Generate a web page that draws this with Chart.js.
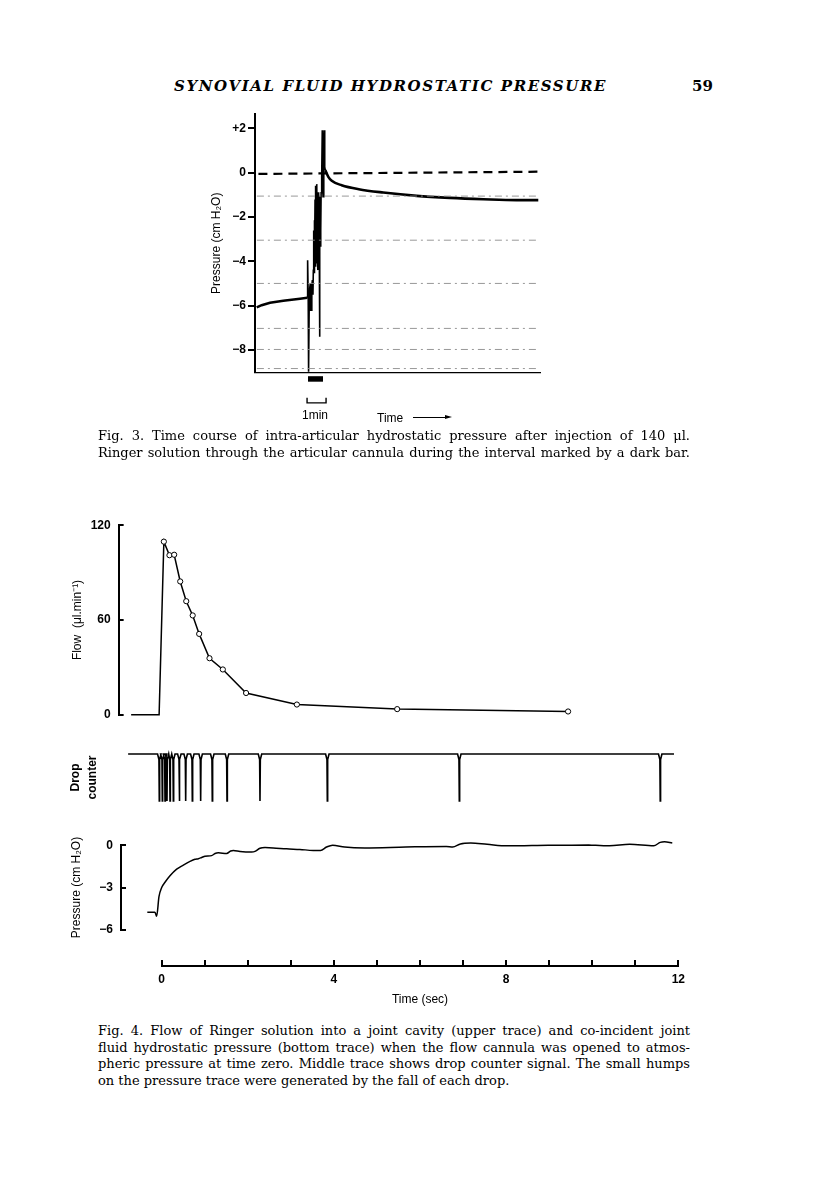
<!DOCTYPE html>
<html><head><meta charset="utf-8">
<script src="https://cdn.jsdelivr.net/npm/chart.js@4.4.1/dist/chart.umd.min.js"></script>
<style>
html,body{margin:0;padding:0;background:#fff;}
body{position:relative;width:816px;height:1191px;overflow:hidden;font-family:"Liberation Sans",Arial,sans-serif;color:#000;}
.a{position:absolute;}
canvas.a{display:block;}
.hdr{font-family:"DejaVu Serif",serif;font-style:italic;font-weight:bold;font-size:15px;letter-spacing:1.6px;white-space:nowrap;line-height:18px;}
.cap{font-family:"DejaVu Serif",serif;font-size:13px;line-height:16.5px;white-space:nowrap;width:592px;}
.cap div{text-align:justify;text-align-last:justify;}
.cap div.last{text-align-last:left;}
.lbl{font-size:12px;line-height:14px;white-space:nowrap;}
</style></head><body>

<div class="a hdr" style="left:174px;top:77px;">SYNOVIAL FLUID HYDROSTATIC PRESSURE</div>
<div class="a hdr" style="left:692px;top:77px;font-style:normal;letter-spacing:0;">59</div>

<canvas id="c3" class="a" width="360" height="320" style="left:200px;top:105px"></canvas>
<div class="a lbl" style="left:302px;top:408px;">1min</div>
<div class="a lbl" style="left:377px;top:411px;">Time</div>
<div class="a" style="left:413px;top:417px;width:33px;height:0;border-top:1.5px solid #000;"></div>
<div class="a" style="left:445px;top:415px;width:0;height:0;border-top:2.5px solid transparent;border-bottom:2.5px solid transparent;border-left:7px solid #000;"></div>

<div class="a cap" style="left:98px;top:428px;">
<div>Fig. 3. Time course of intra-articular hydrostatic pressure after injection of 140 μl.</div>
<div>Ringer solution through the articular cannula during the interval marked by a dark bar.</div>
</div>

<canvas id="cFlow" class="a" width="650" height="230" style="left:50px;top:505px"></canvas>
<canvas id="cDrop" class="a" width="650" height="75" style="left:50px;top:740px"></canvas>
<canvas id="cPress" class="a" width="650" height="125" style="left:50px;top:825px"></canvas>
<canvas id="cTime" class="a" width="620" height="60" style="left:100px;top:950px"></canvas>

<div class="a cap" style="left:98px;top:1023px;">
<div>Fig. 4. Flow of Ringer solution into a joint cavity (upper trace) and co-incident joint</div>
<div>fluid hydrostatic pressure (bottom trace) when the flow cannula was opened to atmos-</div>
<div>pheric pressure at time zero. Middle trace shows drop counter signal. The small humps</div>
<div class="last">on the pressure trace were generated by the fall of each drop.</div>
</div>

<script>
// ---------------- Fig. 3 data (time in min, pressure in cm H2O) ----------------
const fig3PreTime   = [0.09, 0.35, 0.79, 1.49, 2.37, 2.75];
const fig3PrePress  = [-6.07, -5.97, -5.86, -5.77, -5.68, -5.64];
const fig3InjTime   = [2.75, 2.77, 2.80, 2.82, 2.85, 2.88, 2.91, 2.94, 2.96, 2.99, 3.02, 3.05, 3.07, 3.09, 3.11, 3.12, 3.14, 3.16, 3.17, 3.19, 3.21, 3.23, 3.24, 3.26, 3.28, 3.30, 3.31, 3.33, 3.35, 3.37, 3.39, 3.41, 3.42, 3.44, 3.46, 3.48, 3.51, 3.54, 3.56, 3.58, 3.61, 3.63, 3.65, 3.67, 3.70];
const fig3InjPress  = [-5.64, -3.94, -5.59, -8.98, -6.2, -5.2, -5.0, -6.0, -6.2, -5.1, -4.84, -5.5, -4.4, -2.6, -4.5, -2.14, -4.3, -1.2, -4.24, -0.58, -3.6, -0.9, -4.09, -0.51, -3.2, -4.39, -1.5, -0.88, -3.8, -1.2, -7.4, -2.0, -1.03, -3.3, -2.59, -0.9, -0.18, 1.92, -0.6, -1.08, -0.78, 1.0, 1.92, 0.27, 0.12];
const fig3PostTime  = [3.70, 3.86, 4.04, 4.56, 5.46, 6.75, 8.51, 10.26, 12.02, 13.77, 14.91];
const fig3PostPress = [0.12, -0.18, -0.36, -0.56, -0.74, -0.89, -1.04, -1.13, -1.19, -1.23, -1.23];
const fig3ZeroTime  = [0.18, 14.9];
const fig3ZeroPress = [-0.05, 0.05];
const fig3PaperLevels = [-1.05, -3.04, -4.99, -7.02, -7.97, -8.83];
const fig3InjectionBar = [2.79, 3.58];   // dark bar: injection interval (min)
const fig3ScaleBar     = [2.74, 3.74];   // 1 min scale bracket
const fig3YTickStep = 2;

// ---------------- Fig. 4 data (time in s) ----------------
const flowTime  = [-0.71, -0.06, 0.05, 0.18, 0.29, 0.43, 0.57, 0.72, 0.87, 1.11, 1.42, 1.96, 3.14, 5.47, 9.44];
const flowValue = [0, 0, 109.6, 101.0, 101.3, 84.4, 71.9, 62.9, 51.2, 35.8, 28.7, 13.8, 6.5, 3.6, 2.1];
const flowHasMarker = [false, false, true, true, true, true, true, true, true, true, true, true, true, true, true];
const flowYTicks = [0, 60, 120];

const dropTimes = [-0.056, 0.014, 0.077, 0.123, 0.193, 0.27, 0.41, 0.557, 0.711, 0.905, 1.175, 1.517, 2.283, 3.847, 6.913, 11.58];
const dropTraceSpan = [-0.78, 11.9];

const pressTime  = [-0.334, -0.156, -0.117, -0.063, 0.0, 0.077, 0.193, 0.348, 0.503, 0.658, 0.774, 0.852, 0.929, 1.006, 1.161, 1.239, 1.316, 1.51, 1.603, 1.665, 1.82, 2.09, 2.167, 2.283, 2.40, 2.59, 2.90, 3.21, 3.52, 3.69, 3.83, 3.97, 4.25, 4.72, 5.67, 6.61, 6.76, 6.94, 7.18, 7.56, 8.03, 8.98, 9.92, 10.4, 10.87, 11.43, 11.58, 11.68, 11.86];
const pressValue = [-4.76, -4.76, -5.04, -3.65, -3.0, -2.63, -2.17, -1.70, -1.41, -1.15, -1.0, -0.96, -0.87, -0.78, -0.74, -0.59, -0.54, -0.59, -0.41, -0.37, -0.44, -0.48, -0.44, -0.22, -0.17, -0.19, -0.26, -0.30, -0.37, -0.37, -0.13, 0.0, -0.13, -0.19, -0.13, -0.09, -0.13, 0.09, 0.15, 0.06, -0.04, 0.0, 0.02, -0.04, 0.06, -0.04, 0.2, 0.24, 0.15];
const pressYTicks = [0, -3, -6];
const timeTickLabels = [0, 4, 8, 12];

// ---------------- helpers ----------------
function pts(xs, ys) { return xs.map((x, i) => ({ x: x, y: ys[i] })); }
const MINUS = '\u2212';
function signed(v) { return v > 0 ? '+' + v : (v < 0 ? MINUS + Math.abs(v) : '0'); }
function plain(v) { return v < 0 ? MINUS + Math.abs(v) : String(v); }

Chart.defaults.font.family = '"Liberation Sans", Arial, sans-serif';
Chart.defaults.font.size = 12;
Chart.defaults.color = '#000';
Chart.defaults.animation = false;
Chart.defaults.events = [];
Chart.defaults.plugins.legend.display = false;
Chart.defaults.plugins.tooltip.enabled = false;
if (Chart.defaults.plugins.colors) Chart.defaults.plugins.colors.enabled = false;
Chart.defaults.elements.point.radius = 0;
Chart.defaults.elements.line.borderColor = '#000';
Chart.defaults.elements.line.fill = false;

const K = '#000';
const tickFont = { size: 12, weight: 'bold' };

// ---------------- Fig. 3 ----------------
const paperSets = fig3PaperLevels.map(l => ({
  data: pts([0.1, 14.9], [l, l]), borderColor: '#8c8c8c', borderWidth: 0.9, borderDash: [7, 4, 2, 4]
}));
new Chart(document.getElementById('c3'), {
  type: 'line',
  data: { datasets: [
    ...paperSets,
    { data: pts(fig3ZeroTime, fig3ZeroPress), borderColor: K, borderWidth: 2.2, borderDash: [9, 6] },
    { data: pts(fig3PreTime, fig3PrePress), borderColor: K, borderWidth: 2.6 },
    { data: pts(fig3InjTime, fig3InjPress), borderColor: K, borderWidth: 1.6 },
    { data: pts(fig3PostTime, fig3PostPress), borderColor: K, borderWidth: 2.6, cubicInterpolationMode: 'monotone' },
    { data: pts(fig3InjectionBar, [-9.3, -9.3]), borderColor: K, borderWidth: 5.5, borderCapStyle: 'butt', clip: false },
    { data: pts([fig3ScaleBar[0], fig3ScaleBar[0], fig3ScaleBar[1], fig3ScaleBar[1]], [-10.15, -10.38, -10.38, -10.15]), borderColor: K, borderWidth: 1.4, clip: false }
  ]},
  options: {
    responsive: false,
    layout: { padding: { top: 9, right: 20, bottom: 52.7, left: 0 } },
    scales: {
      x: { type: 'linear', min: 0, max: 15, ticks: { display: false }, grid: { display: false },
           border: { display: true, color: K, width: 1.3 }, afterFit: s => { s.height = 0; } },
      y: { type: 'linear', min: -9.0, max: 2.645,
           ticks: { stepSize: fig3YTickStep, includeBounds: false, padding: 2, font: tickFont, callback: v => signed(v) },
           grid: { drawOnChartArea: false, tickLength: 7, lineWidth: 2, color: K },
           border: { display: true, color: K, width: 2 },
           title: { display: true, text: 'Pressure (cm H\u2082O)', font: { size: 12 }, padding: { top: 9.5, bottom: 0 } },
           afterFit: s => { s.width = 55; } }
    }
  }
});

// ---------------- Fig. 4 flow ----------------
new Chart(document.getElementById('cFlow'), {
  type: 'line',
  data: { datasets: [
    { data: pts(flowTime, flowValue), borderColor: K, borderWidth: 1.5, clip: false,
      pointRadius: flowHasMarker.map(m => m ? 2.6 : 0), pointBackgroundColor: '#fff', pointBorderColor: K, pointBorderWidth: 1 }
  ]},
  options: {
    responsive: false,
    layout: { padding: { top: 12.7, right: 21.7, bottom: 9, left: 0 } },
    scales: {
      x: { type: 'linear', min: -1, max: 12, display: false },
      y: { type: 'linear', min: 0, max: 120,
           afterBuildTicks: s => { s.ticks = flowYTicks.map(v => ({ value: v })); },
           ticks: { padding: 13, font: tickFont },
           grid: { drawOnChartArea: false, tickLength: -5, lineWidth: 2, color: K },
           border: { display: true, color: K, width: 2 },
           title: { display: true, text: 'Flow  (\u03bcl.min\u207b\u00b9)', font: { size: 12 }, padding: { top: 20.8, bottom: 0 } },
           afterFit: s => { s.width = 68.65; } }
    }
  }
});

// ---------------- Fig. 4 drop counter ----------------
const dropPts = [{ x: dropTraceSpan[0], y: 0 }];
dropTimes.forEach(t => {
  dropPts.push({ x: t - 0.04, y: 0 }, { x: t - 0.008, y: -0.12 }, { x: t, y: -1 }, { x: t + 0.008, y: -0.12 }, { x: t + 0.04, y: 0 });
});
dropPts.push({ x: dropTraceSpan[1], y: 0 });
new Chart(document.getElementById('cDrop'), {
  type: 'line',
  data: { datasets: [ { data: dropPts, borderColor: K, borderWidth: 1.6, clip: false } ] },
  options: {
    responsive: false,
    layout: { padding: { top: 14, right: 21.7, bottom: 14, left: 0 } },
    scales: {
      x: { type: 'linear', min: -1, max: 12, display: false },
      y: { type: 'linear', min: -1, max: 0, ticks: { display: false }, grid: { display: false }, border: { display: false },
           title: { display: true, text: ['Drop', 'counter'], font: { size: 12, weight: 'bold', lineHeight: 1.4 }, padding: { top: 17.6, bottom: 0 } },
           afterFit: s => { s.width = 68.65; } }
    }
  }
});

// ---------------- Fig. 4 pressure ----------------
new Chart(document.getElementById('cPress'), {
  type: 'line',
  data: { datasets: [ { data: pts(pressTime, pressValue), borderColor: K, borderWidth: 1.5, cubicInterpolationMode: 'monotone', clip: false } ] },
  options: {
    responsive: false,
    layout: { padding: { top: 11, right: 21.7, bottom: 6, left: 0 } },
    scales: {
      x: { type: 'linear', min: -0.945, max: 12, display: false },
      y: { type: 'linear', min: -6, max: 0,
           afterBuildTicks: s => { s.ticks = pressYTicks.map(v => ({ value: v })); },
           ticks: { padding: 13, font: tickFont, callback: v => plain(v) },
           grid: { drawOnChartArea: false, tickLength: -5, lineWidth: 2, color: K },
           border: { display: true, color: K, width: 2 },
           title: { display: true, text: 'Pressure (cm H\u2082O)', font: { size: 12 }, padding: { top: 19.8, bottom: 0 } },
           afterFit: s => { s.width = 71; } }
    }
  }
});

// ---------------- Fig. 4 time axis ----------------
new Chart(document.getElementById('cTime'), {
  type: 'line',
  data: { datasets: [] },
  options: {
    responsive: false,
    layout: { padding: { top: 4, right: 41.7, bottom: 0, left: 61.7 } },
    scales: {
      x: { type: 'linear', position: 'bottom', min: 0, max: 12,
           ticks: { stepSize: 1, autoSkip: false, maxRotation: 0, padding: 12, font: tickFont,
                    callback: v => timeTickLabels.includes(v) ? String(v) : '' },
           grid: { drawOnChartArea: false, tickLength: -6, lineWidth: 2, color: K },
           border: { display: true, color: K, width: 2 },
           title: { display: true, text: 'Time (sec)', font: { size: 12 }, padding: { top: 0, bottom: 3 } },
           afterFit: s => { s.height = 44; } },
      y: { display: false, min: 0, max: 1 }
    }
  }
});
</script>
</body></html>
